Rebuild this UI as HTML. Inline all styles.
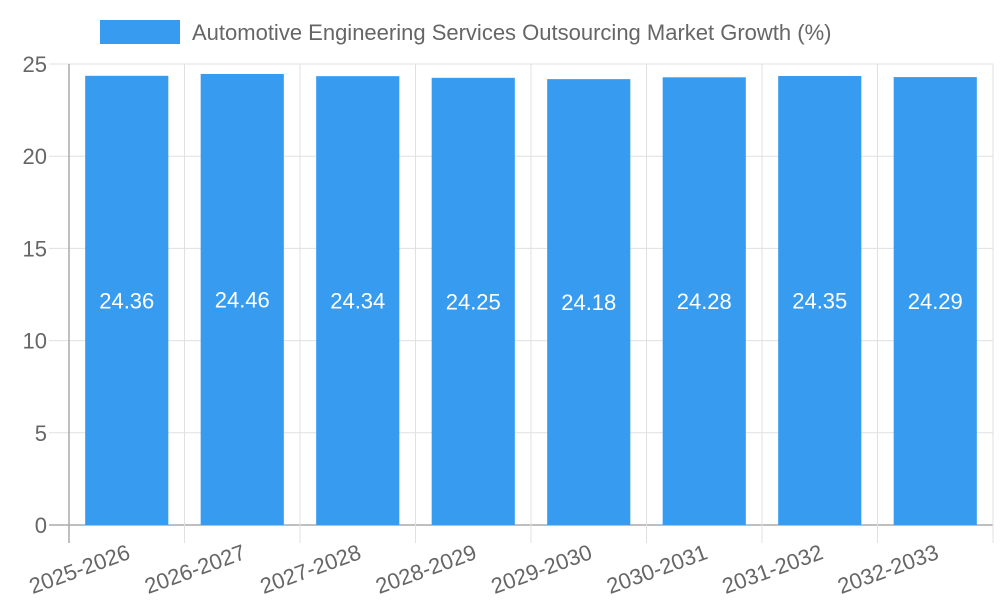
<!DOCTYPE html>
<html><head><meta charset="utf-8"><style>
body{margin:0;background:#fff;}
svg{display:block;font-family:"Liberation Sans",sans-serif;}
</style></head><body>
<svg id="chart" width="1000" height="600">
<rect x="100" y="20" width="80" height="24" fill="#379cf0"/>
<text x="192" y="40" font-size="22" fill="#666">Automotive Engineering Services Outsourcing Market Growth (%)</text>
<g id="grid"></g><g id="bars"></g><g id="labels"></g>
</svg>
<script>
const categories=["2025-2026","2026-2027","2027-2028","2028-2029","2029-2030","2030-2031","2031-2032","2032-2033"];
const values=[24.36,24.46,24.34,24.25,24.18,24.28,24.35,24.29];
const yTicks=[0,5,10,15,20,25];
const L=69,R=993,T=64,B=525,yMax=25;
const ns="http://www.w3.org/2000/svg";
const cw=(R-L)/categories.length;
const y=v=>B-(v/yMax)*(B-T);
const x=i=>L+i*cw;
function mk(p,t,a){const e=document.createElementNS(ns,t);for(const k in a)e.setAttribute(k,a[k]);p.appendChild(e);return e;}
const g=document.getElementById('grid'),bg=document.getElementById('bars'),lg=document.getElementById('labels');
yTicks.forEach(v=>{
 const l=mk(g,'line',{x1:L-20,x2:R,y1:y(v),y2:y(v),stroke:v===0?'#aaa':'#e0e0e0','stroke-width':v===0?1.5:1});
 
 
 const t=mk(g,'text',{x:L-22,y:y(v)+8,'text-anchor':'end','font-size':22,fill:'#666'});
 t.textContent=v;
 
 
});
for(let i=0;i<=categories.length;i++){
 const l=mk(g,'line',{x1:x(i),x2:x(i),y1:T,y2:B+18,stroke:i===0?'#aaa':'#e0e0e0','stroke-width':i===0?1.5:1});
 
 
}
const bw=cw*0.72;
values.forEach((v,i)=>{
 const cx=x(i)+cw/2;
 const r=mk(bg,'rect',{x:cx-bw/2,y:y(v),width:bw,height:B-y(v),fill:'#379cf0'});
 
 
 const t=mk(lg,'text',{x:cx,y:(y(v)+B)/2+8,'text-anchor':'middle','font-size':22,fill:'#fff'});
 t.textContent=v.toFixed(2);
 
 
 const c=mk(lg,'text',{x:cx,y:B+20,'text-anchor':'end','font-size':22,fill:'#666',transform:`rotate(-20 ${cx} ${B+20})`});
 c.setAttribute('dy','14');
 c.textContent=categories[i];
 
 
});
</script>
</body></html>
